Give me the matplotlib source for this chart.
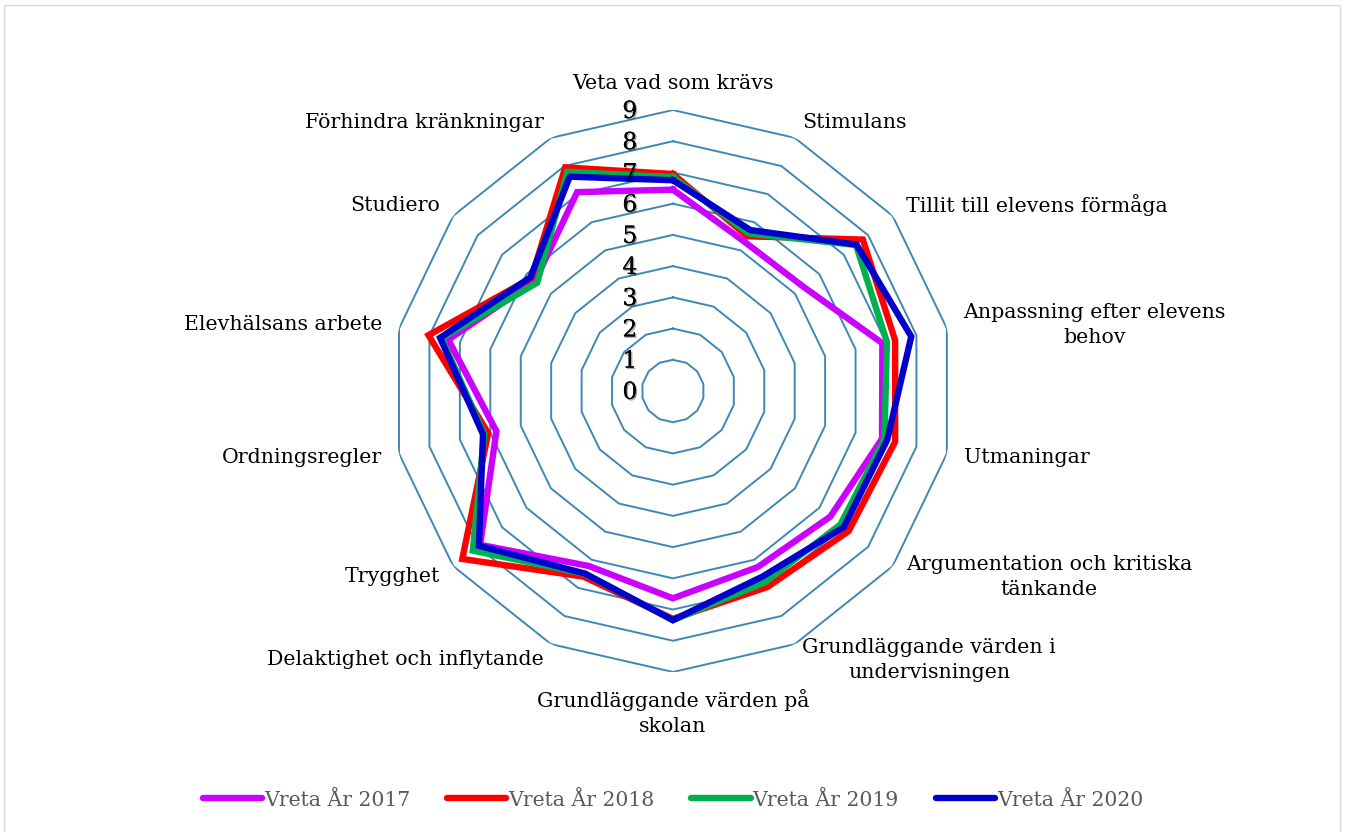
import numpy as np
import matplotlib
matplotlib.use("Agg")
import matplotlib.pyplot as plt
import matplotlib.patheffects as pe
from matplotlib.patches import Rectangle

categories = [
    "Veta vad som krävs", "Stimulans", "Tillit till elevens förmåga",
    "Anpassning efter elevens\nbehov", "Utmaningar",
    "Argumentation och kritiska\ntänkande",
    "Grundläggande värden i\nundervisningen",
    "Grundläggande värden på\nskolan", "Delaktighet och inflytande",
    "Trygghet", "Ordningsregler", "Elevhälsans arbete", "Studiero",
    "Förhindra kränkningar",
]
v2017 = [6.45, 5.3, 5.35, 6.88, 6.87, 6.45, 6.26, 6.64, 6.22, 7.9, 5.8, 7.38, 5.65, 7.07]
v2018 = [6.95, 5.5, 7.78, 7.3, 7.3, 7.2, 6.97, 7.3, 6.6, 8.63, 6.07, 8.03, 5.8, 7.95]
v2019 = [6.85, 5.6, 7.5, 7.03, 6.95, 6.86, 6.8, 7.34, 6.5, 8.2, 6.2, 7.6, 5.56, 7.79]
v2020 = [6.75, 5.72, 7.52, 7.83, 7.04, 7.0, 6.6, 7.34, 6.49, 7.95, 6.24, 7.65, 5.84, 7.62]
series = [("Vreta År 2017", v2017, "#CC00FF"),
          ("Vreta År 2018", v2018, "#FF0000"),
          ("Vreta År 2019", v2019, "#00B050"),
          ("Vreta År 2020", v2020, "#0000CC")]
levels = list(range(0, 10))

plt.rcParams['font.family'] = 'DejaVu Serif'

fig = plt.figure(figsize=(13.46, 8.32), dpi=100)
fig.patches.append(Rectangle((4 / 1346, -0.02), 1336 / 1346, 1.02 - 5 / 832,
                             transform=fig.transFigure, fill=False,
                             edgecolor='#D9D9D9', linewidth=1))
ax = fig.add_axes([0.2912, 0.1923, 0.4175, 0.6755], projection='polar')
ax.set_theta_zero_location('N')
ax.set_theta_direction(-1)
ax.patch.set_alpha(0)

n = len(categories)
angles = np.linspace(0, 2 * np.pi, n, endpoint=False)
closed = np.append(angles, angles[0])

# polygon grid
for lvl in levels[1:]:
    ax.plot(closed, [lvl] * (n + 1), color='#3F88B5', lw=1.4, zorder=1)

for name, vals, col in series:
    ax.plot(closed, vals + vals[:1], color=col, lw=4.6, label=name,
            solid_joinstyle='miter', zorder=3)

ax.set_ylim(0, 9)
ax.grid(False)
ax.spines['polar'].set_visible(False)
ax.set_xticks([])
ax.set_yticks([])

# radial value labels
for lvl in levels:
    ax.annotate(str(lvl), xy=(0, lvl), xytext=(-31, -1), textcoords='offset points',
                ha='center', va='center', fontsize=17, color='black', zorder=4,
                path_effects=[pe.withSimplePatchShadow(offset=(1, -1), alpha=0.35),
                              pe.Normal()])

# category labels
for ang, lab in zip(angles, categories):
    s = np.sin(ang)
    if abs(s) < 0.01:
        ha = 'center'
    elif s > 0:
        ha = 'left'
    else:
        ha = 'right'
    if np.cos(ang) > 0.99:
        va = 'bottom'
    elif np.cos(ang) < -0.99:
        va = 'top'
    else:
        va = 'center'
    ax.text(ang, 9.55, lab, ha=ha, va=va, multialignment='center',
            fontsize=14.8, color='black', linespacing=1.4)

leg = fig.legend(loc='center', bbox_to_anchor=(0.5, 1 - 800 / 832), ncol=4,
                 frameon=False, fontsize=14.7, handlelength=2.9, handletextpad=0.1,
                 columnspacing=1.8)
for t in leg.get_texts():
    t.set_color('#595959')
for h in leg.get_lines():
    h.set_linewidth(4.6)
    h.set_solid_capstyle('round')

fig.savefig('out.png', dpi=100)
